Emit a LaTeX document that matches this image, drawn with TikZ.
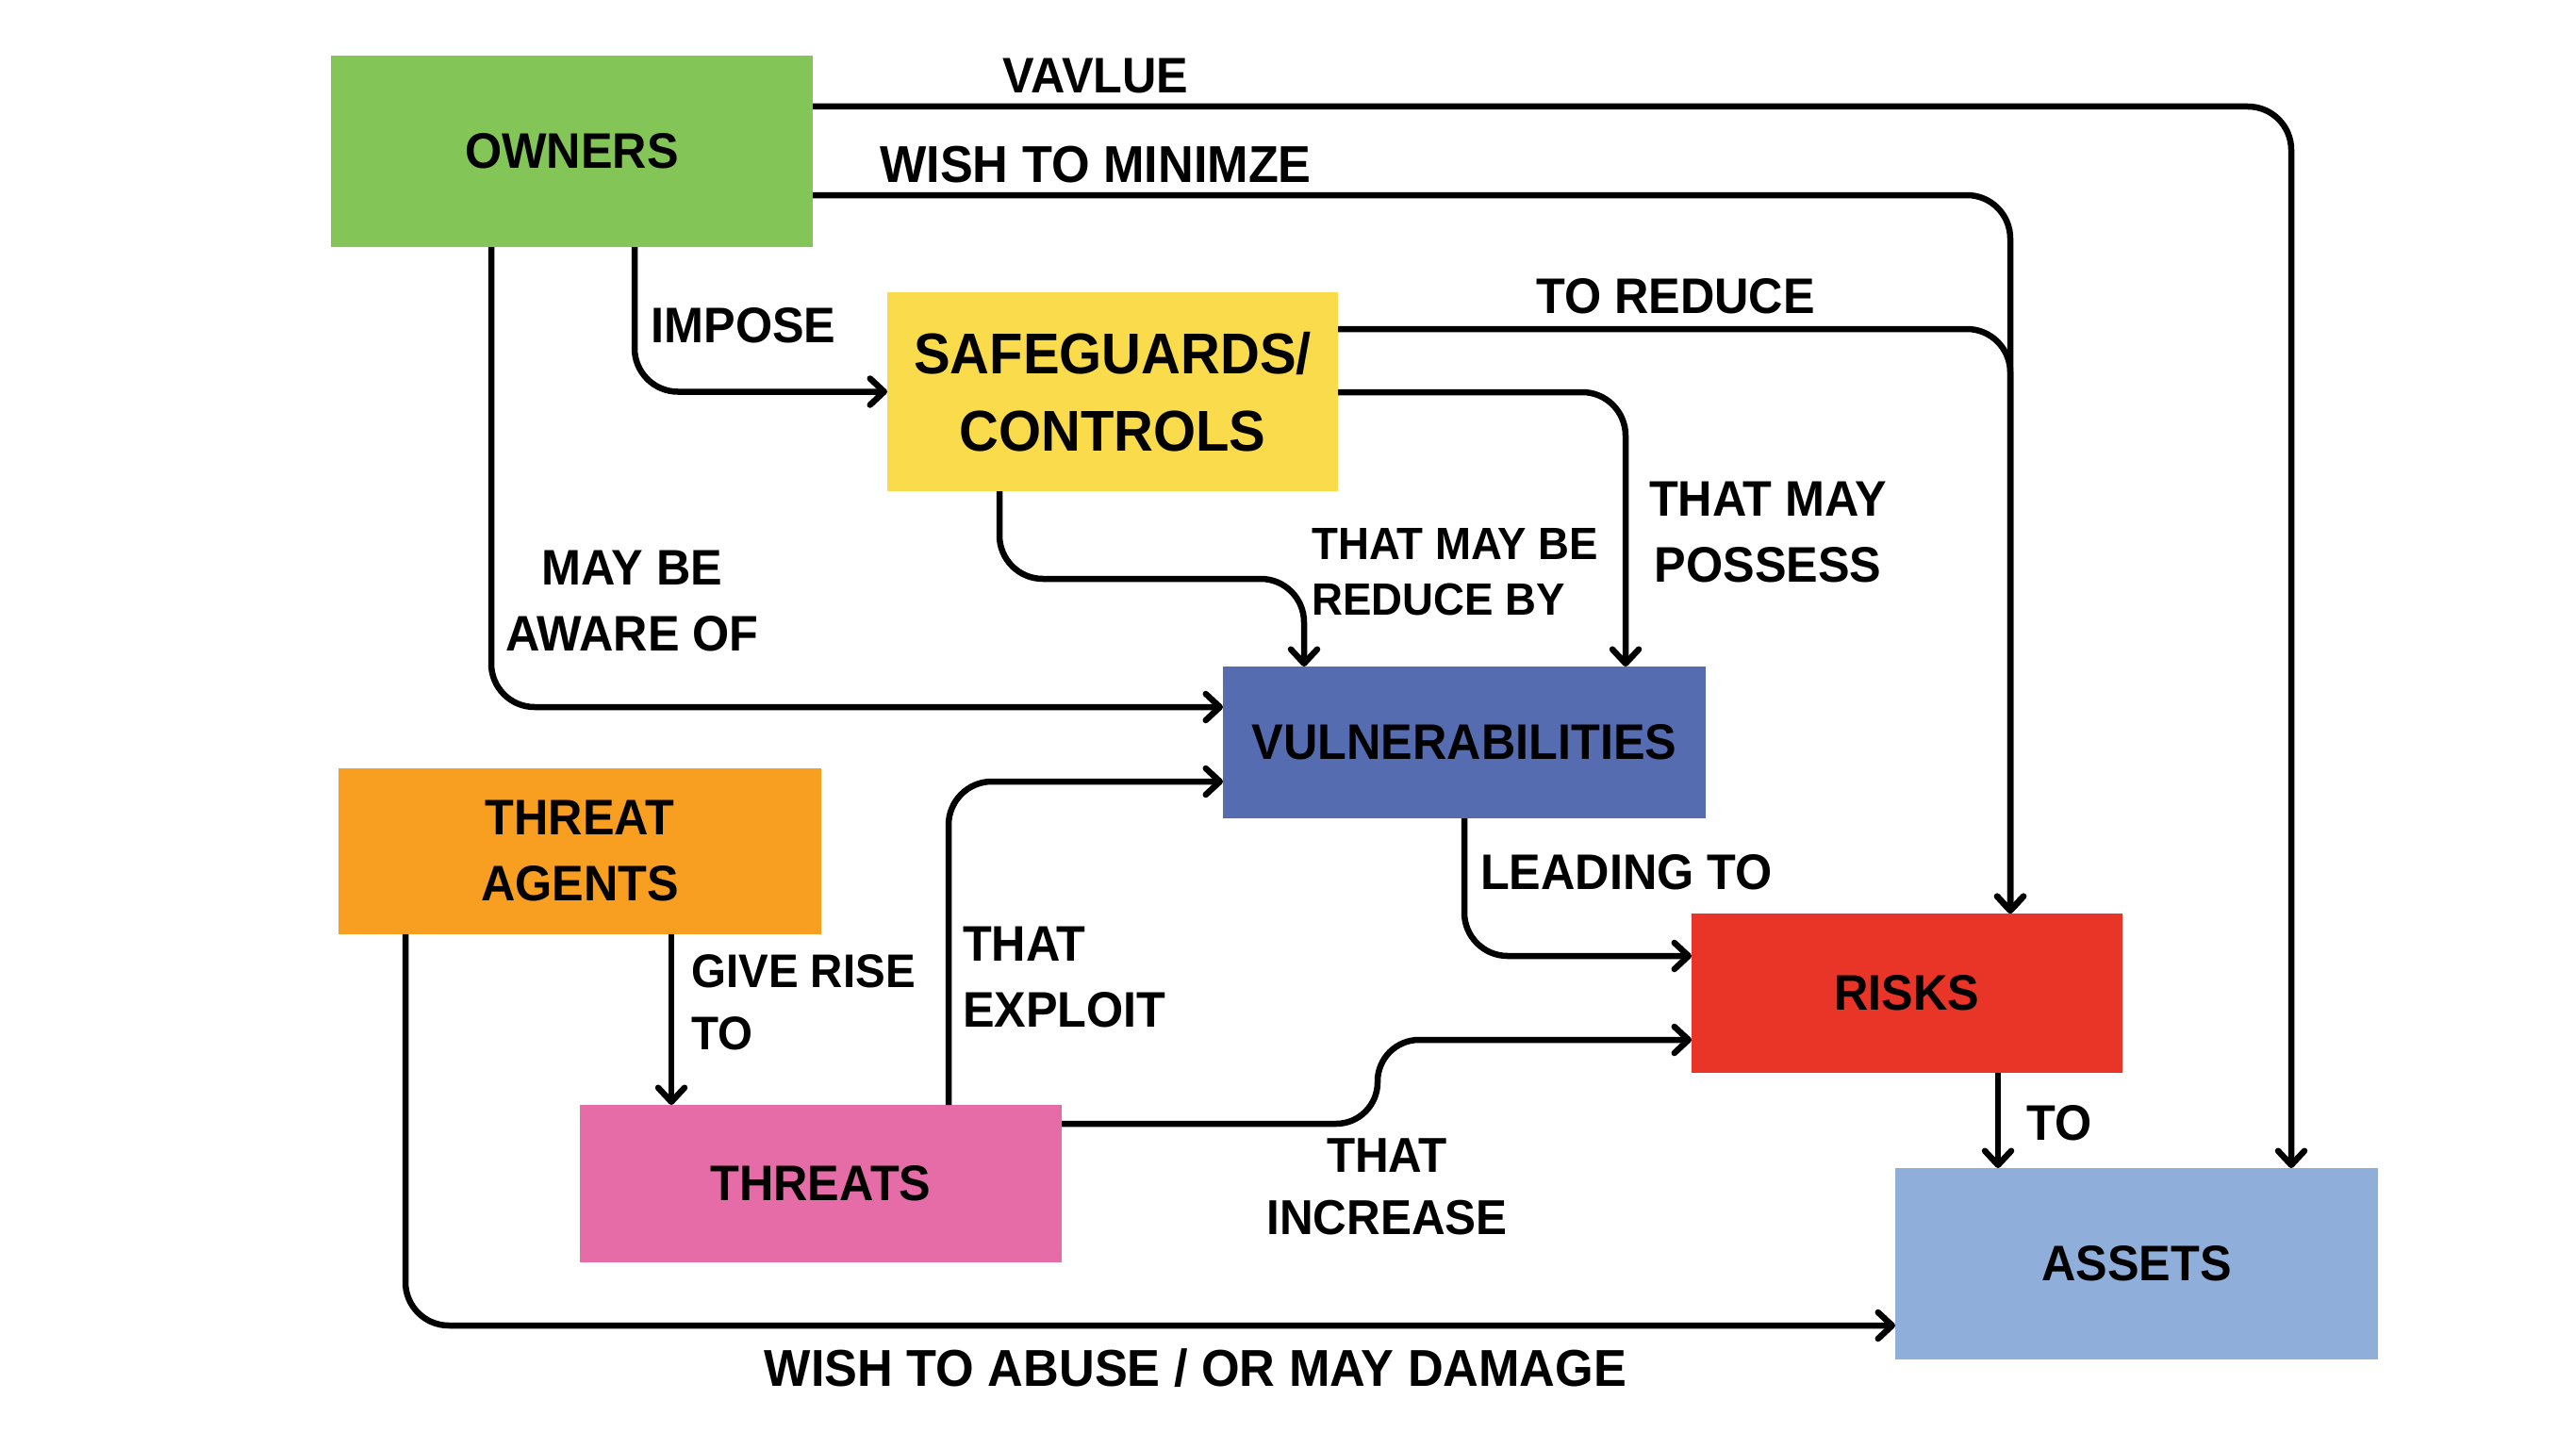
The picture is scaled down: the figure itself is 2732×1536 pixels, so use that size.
\documentclass[tikz,border=0pt]{standalone}
\usepackage{fontspec}
\setmainfont{Liberation Sans}[FakeStretch=0.95]
\usetikzlibrary{arrows.meta,calc}
\definecolor{cown}{HTML}{84C557}
\definecolor{csg}{HTML}{F9DB4C}
\definecolor{cvul}{HTML}{566CB1}
\definecolor{cta}{HTML}{F89F21}
\definecolor{cthr}{HTML}{E66CA8}
\definecolor{crsk}{HTML}{E93428}
\definecolor{cast}{HTML}{8FAEDA}
\begin{document}
\begin{tikzpicture}[x=1pt,y=-1pt,
  boxnode/.style={inner sep=0pt, outer sep=0pt, align=center, font=\fontsize{53}{70}\selectfont\bfseries},
  lbl/.style={inner sep=0pt, font=\fontsize{53}{70}\selectfont\bfseries},
  lblwide/.style={inner sep=0pt, font=\fontsize{55}{70}\selectfont\bfseries},
  lblsmall/.style={inner sep=0pt, font=\fontsize{48}{59}\selectfont\bfseries},
  conn/.style={line width=6.5pt, rounded corners=46pt, -{Straight Barb[length=15pt,width=28pt,round]}}]
\useasboundingbox (0,0) rectangle (2732,1536);
% boxes
\node[boxnode, fill=cown, minimum width=511pt, minimum height=203pt] (own) at (606.5,160.5) {OWNERS};
\node[boxnode, fill=csg, minimum width=478pt, minimum height=211pt, font=\fontsize{61}{82}\selectfont\bfseries] (sg) at (1180,415.5) {SAFEGUARDS/\\CONTROLS};
\node[boxnode, fill=cvul, minimum width=512pt, minimum height=161pt] (vul) at (1553,787.5) {VULNERABILITIES};
\node[boxnode, fill=cta, minimum width=512pt, minimum height=176pt] (ta) at (615,903) {THREAT\\AGENTS};
\node[boxnode, fill=cthr, minimum width=511pt, minimum height=167pt] (thr) at (870.5,1255.5) {THREATS};
\node[boxnode, fill=crsk, minimum width=457pt, minimum height=169pt] (rsk) at (2022.5,1053.5) {RISKS};
\node[boxnode, fill=cast, minimum width=512pt, minimum height=203pt] (ast) at (2266,1340.5) {ASSETS};
% connectors
\draw[conn] ($(own.north east)+(0,54)$) -| ($(ast.north west)+(420,0)$);
\draw[conn] ($(own.north east)+(0,148)$) -| ($(rsk.north west)+(338,0)$);
\draw[conn] ($(sg.north east)+(0,39)$) -| ($(rsk.north west)+(338,0)$);
\draw[conn] ($(sg.north east)+(0,106)$) -| ($(vul.north west)+(427,0)$);
\draw[conn] ($(sg.south west)+(119,0)$) -- ++(0,93) -| ($(vul.north west)+(86,0)$);
\draw[conn] ($(own.south west)+(322,0)$) |- (sg.west);
\draw[conn] ($(own.south west)+(170,0)$) |- ($(vul.north west)+(0,43)$);
\draw[conn] ($(thr.north west)+(391,0)$) |- ($(vul.north west)+(0,122)$);
\draw[conn] (vul.south) |- ($(rsk.north west)+(0,45)$);
\draw[conn, rounded corners=44pt] ($(thr.north east)+(0,20)$) -- ++(335,0) |- ($(rsk.north west)+(0,134)$);
\draw[conn] ($(ta.south west)+(353,0)$) -- ($(thr.north west)+(97,0)$);
\draw[conn] ($(ta.south west)+(71,0)$) |- ($(ast.north west)+(0,167)$);
\draw[conn] ($(rsk.south west)+(325,0)$) -- ($(ast.north west)+(109,0)$);
% labels
\node[lbl] (l1) at (1162,80.5) {VAVLUE};
\node[lblwide] (l2) at (1162,174.5) {WISH TO MINIMZE};
\node[lbl] (l3) at (1777,314) {TO REDUCE};
\node[lbl] (l4) at (788.5,345) {IMPOSE};
\node[lbl, align=center] (l5) at (1875,564.5) {THAT MAY\\POSSESS};
\node[lblsmall, align=left, anchor=west] (l6) at (1391,607) {THAT MAY BE\\REDUCE BY};
\node[lbl, align=center] (l7) at (670.5,637.5) {MAY BE\\AWARE OF};
\node[lbl] (l8) at (1725,925) {LEADING TO};
\node[lbl, align=left, anchor=west, font=\fontsize{50}{66}\selectfont\bfseries] (l9) at (733,1063) {GIVE RISE\\TO};
\node[lbl, align=left, anchor=west] (l10) at (1021,1036.5) {THAT\\EXPLOIT};
\node[lbl, align=center, font=\fontsize{52}{66}\selectfont\bfseries] (l11) at (1471,1259) {THAT\\INCREASE};
\node[lbl] (l12) at (2184,1191.5) {TO};
\node[lblwide] (l13) at (1268,1451.5) {WISH TO ABUSE / OR MAY DAMAGE};
\end{tikzpicture}
\end{document}
